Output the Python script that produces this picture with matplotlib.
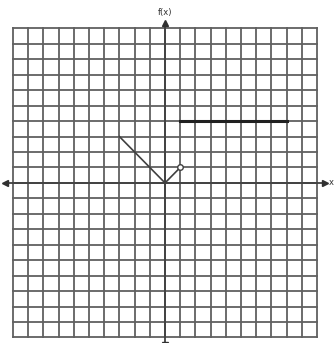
import numpy as np
import matplotlib.pyplot as plt

# piecewise function
seg1_x = [-3, 0]
seg1_y = [3, 0]
seg2_x = [0, 1]
seg2_y = [0, 1]
seg3_x = [1, 8]
seg3_y = [4, 4]
open_pts_x = [1]
open_pts_y = [1]

grid_ticks = np.arange(-10, 11)

fig = plt.figure(figsize=(3.34, 3.43), dpi=100)
ax = fig.add_axes([0, 0, 1, 1])
ax.set_xlim(-10.86, 11.12)
ax.set_ylim(-10.36, 11.84)
ax.axis('off')

gc = '#606060'
for t in grid_ticks:
    ax.plot([t, t], [-10, 10], color=gc, lw=1.3, zorder=1)
    ax.plot([-10, 10], [t, t], color=gc, lw=1.3, zorder=1)

# axes with arrow heads
ax.plot([-10.5, 10.5], [0, 0], color='#404040', lw=1.3, zorder=2)
ax.plot([0, 0], [-10.5, 10.3], color='#404040', lw=1.3, zorder=2)
ax.plot(-10.5, 0, marker='<', color='#303030', ms=4, zorder=3)
ax.plot(10.5, 0, marker='>', color='#303030', ms=4, zorder=3)
ax.plot(0, 10.35, marker='^', color='#303030', ms=4, zorder=3)
ax.plot(0, -10.5, marker='v', color='#303030', ms=4, zorder=3)
ax.text(10.75, 0, 'x', fontsize=6, va='center', ha='left', color='#303030')
ax.text(0, 10.75, 'f(x)', fontsize=6, va='bottom', ha='center', color='#303030')

# graph
ax.plot(seg1_x, seg1_y, color='#404040', lw=1.2, zorder=4)
ax.plot(seg2_x, seg2_y, color='#404040', lw=1.2, zorder=4)
ax.plot(seg3_x, seg3_y, color='#202020', lw=2.2, zorder=4)
ax.plot(open_pts_x, open_pts_y, 'o', mfc='white', mec='#404040', ms=4, mew=1, zorder=5)

fig.savefig('out.png', dpi=100)
